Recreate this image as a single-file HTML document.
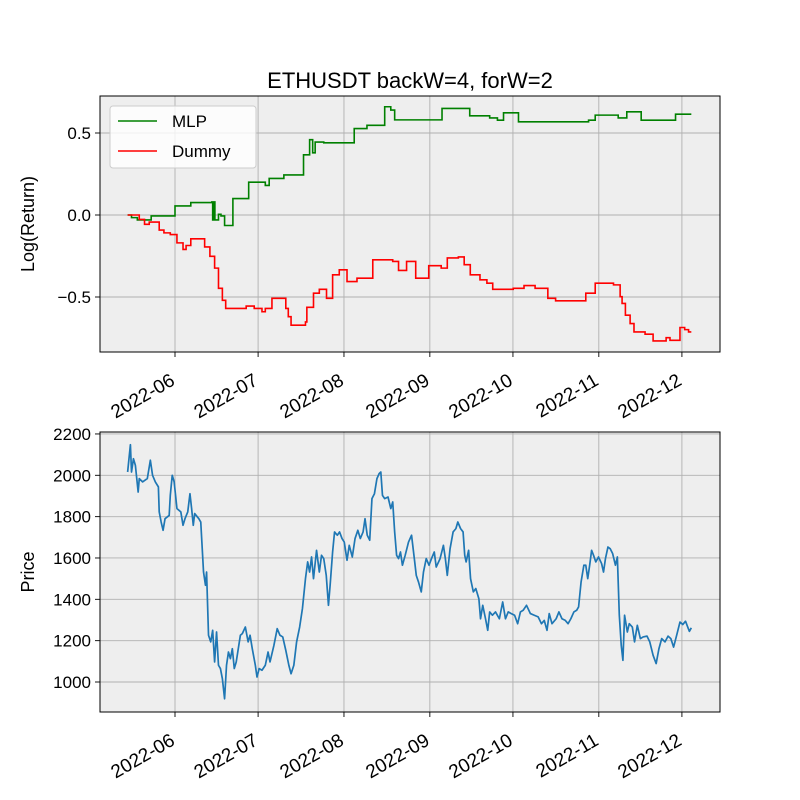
<!DOCTYPE html>
<html><head><meta charset="utf-8"><style>
body{margin:0;background:#fff}
svg{display:block;font-family:"Liberation Sans","DejaVu Sans",sans-serif}
</style></head><body>
<svg id="fig" width="800" height="800" viewBox="0 0 800 800"></svg>
<script>
// dates as day offsets from 2022-06-01
const monthTicks = [0,30,61,92,122,153,183];
const monthLabels = ["2022-06","2022-07","2022-08","2022-09","2022-10","2022-11","2022-12"];
const retTicks = [0.5,0.0,-0.5];
const retTickLabels = ["0.5","0.0","\u22120.5"];
const priceTicks = [1000,1200,1400,1600,1800,2000,2200];
const mlpDays = [-17.1,-15.7,-13.6,-8.6,0,5.7,13.3,13.6,14,14.4,15.7,16.6,17.9,20.9,26.6,32.6,34,39.3,46.4,48.6,49.7,50.6,53.7,64.7,69.3,75.7,77.9,79.3,96.4,106.4,113.6,116.4,118.6,124,149.3,151.7,160,163.1,168.3,180.7,186.4];
const mlpVals = [0,-0.016,-0.03,-0.006,0.055,0.076,0.08,-0.03,0.08,-0.03,0.004,-0.006,-0.064,0.1,0.2,0.18,0.223,0.244,0.367,0.459,0.379,0.445,0.44,0.527,0.547,0.66,0.64,0.58,0.65,0.605,0.592,0.578,0.623,0.568,0.578,0.609,0.592,0.629,0.578,0.615,0.615];
const dumDays = [-17.1,-12.9,-11,-9.3,-5.7,-4,-1.7,0.7,2.9,4,5.7,10.7,12.6,14.3,15.7,17.1,18.3,25.7,28.6,31.4,32.6,35,40,40.9,41.9,47.1,47.6,50,52.1,54.7,56.9,59.3,62.1,65.7,71.4,78.6,80.7,83.6,86.9,91.6,96.1,98.3,102.3,104.4,106.6,110.1,112.6,114.7,122.1,126,130,134.6,137.4,148.3,151.7,158.3,160.7,161.4,162.6,164.3,165.7,169.7,172.6,177.3,178.7,182.3,184,185.4,186.4];
const dumVals = [0,-0.027,-0.057,-0.043,-0.092,-0.109,-0.119,-0.17,-0.21,-0.186,-0.145,-0.195,-0.252,-0.324,-0.447,-0.52,-0.57,-0.555,-0.57,-0.59,-0.57,-0.508,-0.57,-0.62,-0.672,-0.652,-0.563,-0.477,-0.453,-0.508,-0.365,-0.334,-0.406,-0.385,-0.273,-0.283,-0.338,-0.283,-0.385,-0.309,-0.324,-0.262,-0.256,-0.303,-0.365,-0.395,-0.416,-0.453,-0.447,-0.43,-0.447,-0.508,-0.523,-0.477,-0.416,-0.426,-0.498,-0.539,-0.611,-0.662,-0.713,-0.727,-0.768,-0.748,-0.764,-0.686,-0.699,-0.713,-0.713];
const priceDays = [-17.1,-16.1,-15.7,-15,-14.3,-13.3,-12.9,-11.7,-10,-8.9,-8.1,-7.1,-6,-5.7,-5,-4.3,-3.6,-2.1,-1.7,-1,-0.3,0.7,2.1,2.9,3.6,4.6,5.4,6,6.6,7.1,8.6,9.3,9.7,10.3,11,11.4,12.1,12.9,13.6,14.3,15,15.7,16.4,17.1,17.9,18.6,19.3,20,20.7,21.4,22.1,23.6,24.3,25.4,26.4,27.1,27.9,29,29.6,30.4,31.4,32.6,33.6,34.3,35.7,36.9,37.9,38.9,40,41.1,41.9,42.9,43.9,45,46,47.1,47.9,48.6,49.3,50,51.1,52.1,52.9,53.7,54.6,55.4,56,56.9,57.6,58.6,59.4,60.3,61.1,62.1,62.9,64,65,66,66.9,67.9,68.6,69.4,70.3,71.1,72,72.9,73.7,74.3,74.9,75.7,76.9,77.9,78.6,79.3,80,80.7,81.4,82.1,83.1,84.3,85.4,86.4,87.1,87.9,88.9,89.7,90.7,91.7,92.6,93.6,94.3,95.7,96.9,97.6,98.3,99.3,100.4,101.4,102.1,103.1,104,104.6,105.1,106,106.7,107.7,108.6,109.7,110.3,111.1,112.1,112.9,113.6,114.6,115.7,117.1,118.3,119.3,120.3,121.4,122.6,123.7,124.7,125.7,126.9,128.3,129.7,131.1,132.3,133.3,134.3,135.1,136.1,137.6,138.6,139.7,140.9,141.9,142.9,144,145,145.7,146.6,147.6,148.3,149,149.7,150.4,151.1,151.9,152.9,154,154.7,155.4,156.3,157.1,158,159,159.7,160.4,161.1,161.7,162.3,163.3,164,165.1,165.9,166.9,168,169,170.4,171.4,172.6,173.7,174.7,175.7,176.9,178,179,180,181.1,182.3,183.3,184.3,185.1,185.7,186.4];
const prices = [2016,2148,2016,2080,2048,1919,1984,1968,1984,2073,2000,1968,1944,1823,1774,1734,1790,1806,1903,2000,1968,1839,1823,1758,1790,1823,1911,1839,1758,1815,1790,1774,1677,1532,1468,1532,1226,1194,1250,1097,1242,1081,1065,1016,919,1081,1145,1113,1161,1065,1097,1226,1234,1266,1194,1226,1161,1081,1024,1065,1057,1081,1145,1097,1177,1258,1226,1218,1153,1081,1040,1081,1194,1266,1355,1500,1581,1532,1605,1500,1637,1532,1613,1597,1516,1371,1468,1629,1726,1710,1726,1694,1677,1589,1661,1605,1694,1734,1694,1726,1790,1710,1686,1887,1911,1984,2008,2016,1903,1887,1895,1839,1871,1726,1613,1597,1629,1565,1613,1677,1710,1597,1516,1484,1436,1532,1597,1565,1597,1629,1556,1597,1661,1597,1516,1645,1726,1742,1774,1742,1726,1613,1581,1637,1500,1436,1452,1403,1306,1371,1306,1250,1339,1323,1339,1306,1387,1306,1339,1331,1323,1282,1339,1347,1371,1331,1323,1315,1282,1298,1250,1331,1282,1306,1339,1306,1298,1282,1306,1339,1347,1363,1484,1565,1565,1500,1565,1637,1613,1581,1605,1573,1532,1597,1653,1645,1621,1565,1605,1323,1177,1105,1323,1242,1282,1266,1194,1274,1210,1218,1222,1194,1129,1089,1161,1210,1194,1222,1210,1169,1226,1290,1278,1294,1266,1245,1262];

const NS="http://www.w3.org/2000/svg";
const svg=document.getElementById('fig');
function mk(tag,attrs,parent){const e=document.createElementNS(NS,tag);for(const k in attrs)e.setAttribute(k,attrs[k]);(parent||svg).appendChild(e);return e;}
const X=d=>175+d*2.77;
const L=100,R=720;
const axTop={t:96,b:352}, axBot={t:432,b:712};
const yRet=v=>215-164*v;
const yPrice=p=>682-(p-1000)*0.2067;

function axes(ax,name){
  const r=mk('rect',{x:L,y:ax.t,width:R-L,height:ax.b-ax.t,fill:'#eeeeee'});
  
  
  monthTicks.forEach((d,i)=>{
    const x=X(d);
    const g=mk('line',{x1:x,x2:x,y1:ax.t,y2:ax.b,stroke:'#b0b0b0','stroke-width':0.9});
    
    
    mk('line',{x1:x,x2:x,y1:ax.b,y2:ax.b+5,stroke:'#000','stroke-width':0.9});
    const t=mk('text',{x:0,y:0,'font-size':19,'text-anchor':'end',transform:`translate(${x+1},${ax.b+32}) rotate(-30)`});
    t.textContent=monthLabels[i];
    
    
  });
}
function yTicks(ax,name,vals,labels,yf){
  vals.forEach((v,i)=>{
    const y=yf(v);
    if(y<ax.t-1||y>ax.b+1)return;
    const g=mk('line',{x1:L,x2:R,y1:y,y2:y,stroke:'#b0b0b0','stroke-width':0.9});
    
    
    mk('line',{x1:L-5,x2:L,y1:y,y2:y,stroke:'#000','stroke-width':0.9});
    const t=mk('text',{x:L-9,y:y+6,'font-size':17,'text-anchor':'end'});
    t.textContent=labels[i];
    
    
  });
}
axes(axTop,'returns');
yTicks(axTop,'returns',retTicks,retTickLabels,yRet);
axes(axBot,'price');
yTicks(axBot,'price',priceTicks,priceTicks.map(String),yPrice);

function stepPath(days,vals,yf){
  let d=`M${X(days[0])},${yf(vals[0])}`;
  for(let i=1;i<days.length;i++){d+=`H${X(days[i])}V${yf(vals[i])}`;}
  return d;
}
const mlp=mk('path',{d:stepPath(mlpDays,mlpVals,yRet),fill:'none',stroke:'#008000','stroke-width':1.6});


const dum=mk('path',{d:stepPath(dumDays,dumVals,yRet),fill:'none',stroke:'#ff0000','stroke-width':1.6});


const pl=mk('polyline',{points:priceDays.map((d,i)=>X(d)+','+yPrice(prices[i])).join(' '),fill:'none',stroke:'#1f77b4','stroke-width':1.7,'stroke-linejoin':'round'});



[axTop,axBot].forEach((ax,i)=>{
  const f=mk('rect',{x:L,y:ax.t,width:R-L,height:ax.b-ax.t,fill:'none',stroke:'#000','stroke-width':1});
  
  
});

const lg=mk('g',{});


mk('rect',{x:110,y:106,width:146,height:62,rx:3,fill:'#fff','fill-opacity':0.8,stroke:'#cccccc'},lg);
[['MLP','#008000',121],['Dummy','#ff0000',151]].forEach(([n,c,y])=>{
  const e=mk('g',{},lg);
  
  
  mk('line',{x1:118,x2:157,y1:y,y2:y,stroke:c,'stroke-width':1.6},e);
  const t=mk('text',{x:172,y:y+6,'font-size':17},e);t.textContent=n;
});

const title=mk('text',{x:410,y:88,'font-size':22,'text-anchor':'middle'});
title.textContent='ETHUSDT backW=4, forW=2';


const yl1=mk('text',{x:0,y:0,'font-size':18,'text-anchor':'middle',transform:'translate(34,224) rotate(-90)'});
yl1.textContent='Log(Return)';


const yl2=mk('text',{x:0,y:0,'font-size':18,'text-anchor':'middle',transform:'translate(34,572) rotate(-90)'});
yl2.textContent='Price';


</script>
</body></html>
